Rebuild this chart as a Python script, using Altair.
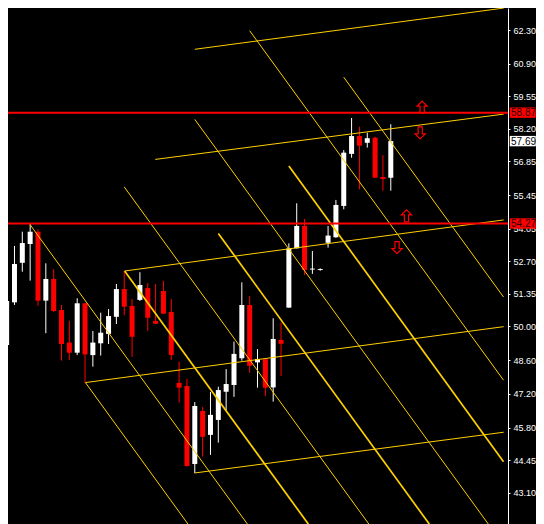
import altair as alt
import pandas as pd

# ---------------- data ----------------
bar_index = list(range(50))
open_ = [49.23, 51.00, 52.64, 53.42, 53.93, 51.07, 51.97, 50.68, 49.33, 48.91,
         50.96, 48.81, 49.30, 49.69, 50.40, 51.55, 50.85, 51.10, 51.59, 50.23,
         51.47, 50.60, 47.66, 47.53, 44.29, 46.49, 45.50, 46.12, 47.29, 47.57,
         48.68, 50.89, 48.51, 48.64, 47.47, 49.44, 50.78, 53.24, 54.17, 52.36,
         52.34, 53.47, 53.70, 55.00, 57.16, 57.90, 57.62, 57.83, 56.20, 56.17]
high = [51.51, 53.34, 53.93, 54.25, 54.03, 52.62, 52.38, 50.89, 50.23, 51.17,
        50.96, 49.81, 50.57, 50.72, 51.76, 52.30, 51.14, 52.25, 51.80, 51.76,
        51.89, 51.14, 48.54, 47.82, 46.86, 46.66, 47.28, 47.50, 48.23, 49.37,
        51.83, 51.26, 49.06, 48.68, 50.34, 50.16, 53.45, 55.11, 54.46, 53.13,
        52.41, 54.17, 55.25, 57.32, 58.65, 58.29, 58.04, 57.87, 57.11, 58.39]
low = [49.19, 50.89, 52.27, 51.90, 50.86, 49.72, 50.59, 48.58, 48.61, 48.81,
       47.66, 48.33, 48.79, 49.27, 50.10, 50.47, 48.74, 51.06, 49.82, 50.11,
       50.53, 48.61, 46.84, 44.18, 43.91, 44.60, 44.67, 45.18, 46.53, 47.08,
       48.58, 48.08, 47.46, 47.11, 46.88, 47.94, 50.78, 53.24, 52.13, 52.18,
       52.31, 53.27, 53.68, 54.86, 57.00, 55.69, 57.42, 56.17, 55.63, 55.63]
close = [51.06, 52.59, 53.46, 53.93, 51.07, 51.97, 50.64, 49.27, 48.91, 50.96,
         48.84, 49.33, 49.74, 50.43, 51.55, 50.82, 49.57, 51.72, 50.36, 50.11,
         50.53, 48.81, 47.46, 44.21, 46.70, 45.42, 46.33, 47.36, 47.61, 48.86,
         50.89, 48.37, 48.65, 47.46, 49.48, 49.28, 53.24, 54.17, 52.34, 52.40,
         52.38, 53.77, 55.04, 57.21, 57.90, 57.50, 57.81, 56.17, 56.12, 57.69]

# horizontal price levels and last price
level_prices = [58.87, 54.27]
last_price = 57.69

# yellow channel / grid lines: start (bar, price) -> end (bar, price)
line_i0 = [24.0, 18.96, 15.05, 10.05, 24.0, 3.0, 10.05, 15.05, 15.0, 27.0, 24.0, 36.0, 31.0, 43.0]
line_p0 = [61.50, 56.93, 52.30, 47.67, 43.92, 54.22, 47.67, 52.30, 55.79, 53.86, 58.59, 56.66, 62.27, 60.34]
line_i1 = [63.4, 63.4, 63.4, 63.4, 63.4, 30.71, 23.13, 38.48, 46.2, 53.91, 61.44, 63.38, 63.38, 63.38]
line_p1 = [63.21, 58.81, 54.42, 49.99, 45.61, 41.80, 41.80, 41.80, 41.80, 41.80, 41.80, 44.39, 47.77, 51.22]
line_kind = ["thin", "thin", "thin", "thin", "thin", "thin", "thin", "thick", "thin", "thick",
             "thin", "thick", "thin", "thin"]

# arrow markers
arrow_i = [53.0, 52.75, 51.0, 49.8]
arrow_p = [59.10, 58.03, 54.59, 53.27]
arrow_dir = ["up", "down", "up", "down"]

# axis tick labels
tick_values = [62.30, 60.90, 59.55, 58.20, 56.85, 55.45, 54.05, 52.70, 51.35,
               50.00, 48.60, 47.20, 45.80, 44.45, 43.10]

# ---------------- frames ----------------
candles = pd.DataFrame({"i": bar_index, "o": open_, "h": high, "l": low, "c": close})
candles["dir"] = ["up" if c >= o else "down" for o, c in zip(open_, close)]

lines = pd.DataFrame({"i0": line_i0, "p0": line_p0, "i1": line_i1, "p1": line_p1, "kind": line_kind})
levels = pd.DataFrame({"v": level_prices})
arrows = pd.DataFrame({"i": arrow_i, "p": arrow_p, "dir": arrow_dir})
tags = pd.DataFrame({
    "p": level_prices + [last_price],
    "txt": [f"{v:.2f}" for v in level_prices + [last_price]],
    "kind": ["level", "level", "last"],
})

# ---------------- scales ----------------
xsc = alt.Scale(domain=[0.8125, 63.3125], nice=False, zero=False)
ysc = alt.Scale(domain=[41.802, 63.213], nice=False, zero=False)
yaxis = alt.Axis(orient="right", values=tick_values, format=".2f", labelColor="white",
                 labelFont="Liberation Sans", labelFontSize=9, tickColor="white", tickSize=2,
                 domainColor="white", grid=False, labelPadding=3, labelOverlap=False,
                 labelBound=False, labelFlush=False)

X = lambda f: alt.X(f, scale=xsc, axis=None)
Y = lambda f: alt.Y(f, scale=ysc, axis=yaxis, title=None)

dircolor = alt.Color("dir:N", scale=alt.Scale(domain=["up", "down"], range=["#ffffff", "#ff0000"]),
                     legend=None)

wicks = alt.Chart(candles).mark_rule(strokeWidth=1, clip=True).encode(
    x=X("i:Q"), y=Y("l:Q"), y2="h:Q", color=dircolor)
bodies = alt.Chart(candles).mark_bar(size=5, clip=True).encode(
    x=X("i:Q"), y=Y("o:Q"), y2="c:Q", color=dircolor)

grid = alt.Chart(lines).mark_rule(clip=True, color="#ffd000").encode(
    x=X("i0:Q"), y=Y("p0:Q"), x2="i1:Q", y2="p1:Q",
    strokeWidth=alt.StrokeWidth("kind:N", scale=alt.Scale(domain=["thin", "thick"], range=[1, 1.7]),
                                legend=None))

red_levels = alt.Chart(levels).mark_rule(color="#ff0000", strokeWidth=2).encode(y=Y("v:Q"))

up_path = "M0,-1L0.85,-0.15L0.35,-0.15L0.35,1L-0.35,1L-0.35,-0.15L-0.85,-0.15Z"
down_path = "M0,1L0.85,0.15L0.35,0.15L0.35,-1L-0.35,-1L-0.35,0.15L-0.85,0.15Z"
arrow_marks = alt.Chart(arrows).mark_point(filled=False, stroke="#ff0000", strokeWidth=1.2,
                                           size=144, opacity=1, clip=True).encode(
    x=X("i:Q"), y=Y("p:Q"),
    shape=alt.Shape("dir:N", scale=alt.Scale(domain=["up", "down"], range=[up_path, down_path]),
                    legend=None))

box_path = "M-1,-0.40L1,-0.40L1,0.40L-1,0.40Z"
tag_boxes = alt.Chart(tags).mark_point(filled=True, shape=box_path, size=676, opacity=1).encode(
    x=alt.value(514.8), y=Y("p:Q"),
    color=alt.Color("kind:N", scale=alt.Scale(domain=["level", "last"], range=["#ff0000", "#ffffff"]),
                    legend=None))
tag_text = alt.Chart(tags).mark_text(align="left", baseline="middle", font="Liberation Sans",
                                     fontSize=10, dy=0.5).encode(
    x=alt.value(503), y=Y("p:Q"), text="txt:N",
    color=alt.Color("kind:N", scale=alt.Scale(domain=["level", "last"], range=["#2a0000", "#000000"]),
                    legend=None))

chart = alt.layer(bodies, wicks, grid, red_levels, arrow_marks, tag_boxes, tag_text).resolve_scale(
    color="independent").properties(
    width=500, height=516,
    padding={"left": 0, "top": 0, "right": 28, "bottom": 0},
    autosize=alt.AutoSizeParams(type="none"),
    background="black",
).configure_view(stroke="transparent", fill="black")

chart.save("out.html", embed_options={"renderer": "svg", "actions": False})
